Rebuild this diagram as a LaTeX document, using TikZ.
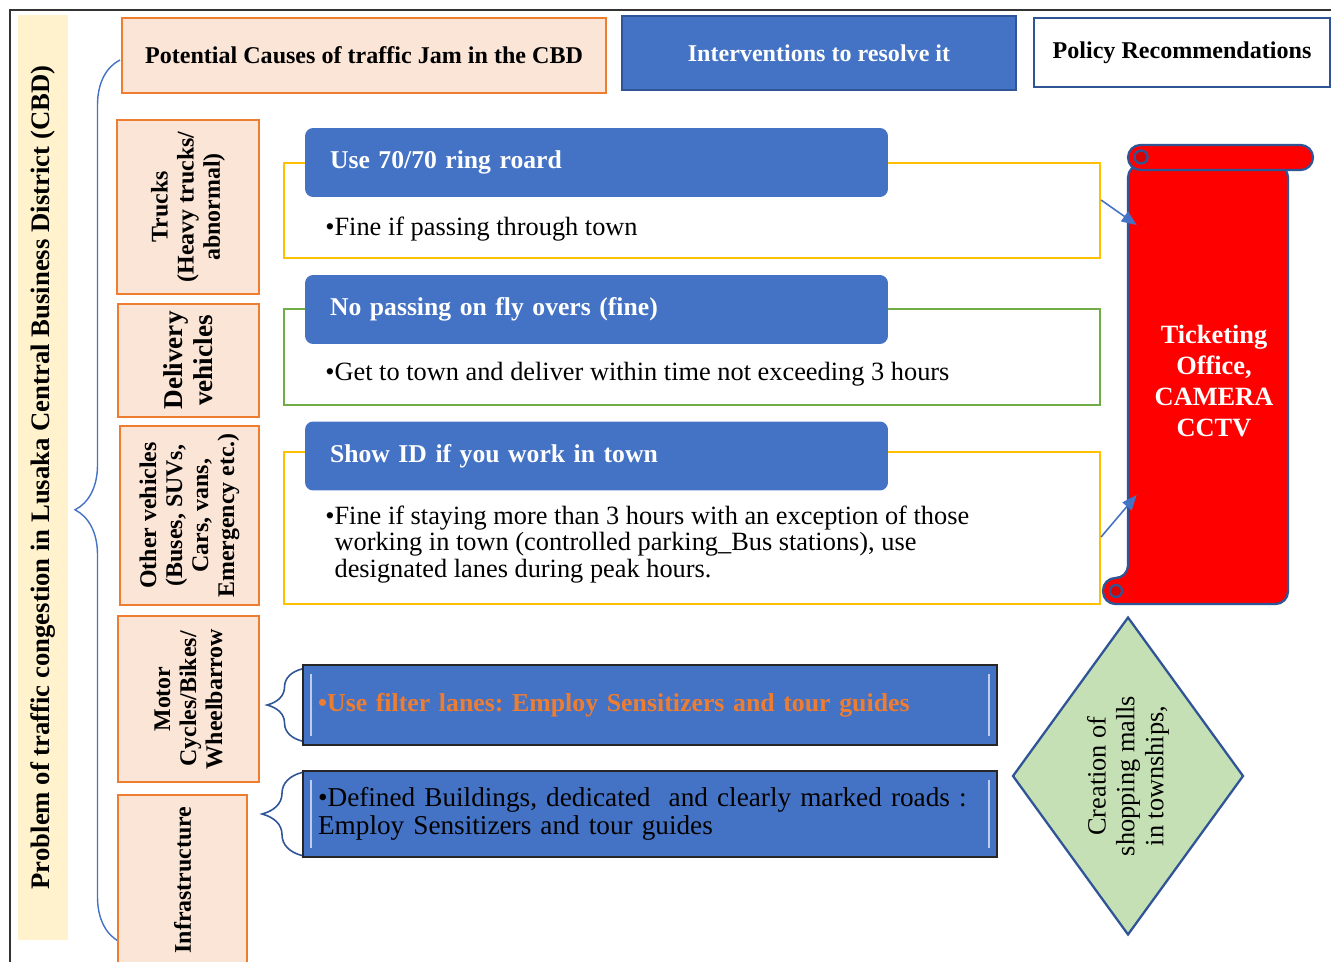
\documentclass[tikz,border=0pt]{standalone}
\usepackage{fontspec}
\setmainfont{Liberation Serif}
\usetikzlibrary{arrows.meta}
\usetikzlibrary{positioning}
\usetikzlibrary{shapes, shapes.geometric}
\usetikzlibrary{decorations.pathreplacing}
\frenchspacing

\definecolor{cblue}{HTML}{4472C4}
\definecolor{cdblue}{HTML}{2F5597}
\definecolor{corange}{HTML}{ED7D31}
\definecolor{cpeach}{HTML}{FBE5D6}
\definecolor{cyel}{HTML}{FFC000}
\definecolor{cgreen}{HTML}{70AD47}
\definecolor{cband}{HTML}{FFF2CC}
\definecolor{cmint}{HTML}{C5E0B4}

\begin{document}
\begin{tikzpicture}[x=0.02cm, y=-0.02cm,
  cause/.style={rectangle, draw=corange, line width=1.6pt, fill=cpeach, rotate=90, align=center, inner sep=2pt, font=\fontsize{13.6}{14.8}\selectfont\bfseries},
  header/.style={rectangle, line width=1.6pt, align=center, font=\fontsize{13.7}{15}\selectfont\bfseries},
  groupframe/.style={rectangle, line width=1.3pt, minimum width=16.32cm},
  actionbox/.style={rectangle, rounded corners=0.16cm, fill=cblue, text=white, align=left, inner xsep=0.5cm, text width=10.66cm, minimum height=1.38cm, font=\fontsize{14.6}{16}\selectfont\bfseries},
  bullettext/.style={inner sep=0pt, align=left, font=\fontsize{15}{15.3}\selectfont},
  sensbar/.style={rectangle, draw=black!85, line width=1.2pt, fill=cblue, align=left, inner xsep=0.3cm, text width=13.28cm},
  bevel/.style={draw=cblue!35!white, line width=1.5pt},
  curly/.style={draw=cdblue, line width=0.9pt, decorate, decoration={brace, amplitude=0.7cm}},
  bigbrace/.style={draw=cblue, line width=0.8pt, decorate, decoration={brace, amplitude=0.9cm, aspect=0.49}},
  scroll/.style={draw=cdblue, line width=1.3pt, fill=red},
  pointer/.style={draw=cblue, line width=0.9pt, -{Triangle[length=0.3cm, width=0.24cm]}}
]
\useasboundingbox (0,0) rectangle (1331,962);

% page frame
\draw[black!80, line width=0.9pt] (10,962) -- (10,10) -- (1331,10);

% problem band
\node[rotate=90, fill=cband, minimum width=18.5cm, minimum height=1cm, font=\fontsize{15.2}{16}\selectfont\bfseries] (problem) at (43,477.5) {Problem of traffic congestion in Lusaka Central Business District (CBD)};

\coordinate (bracebot) at (120,942);
\coordinate (bracetop) at (120,60);
\draw[bigbrace] (bracebot) -- (bracetop);

% column headers
\node[header, draw=corange, fill=cpeach, minimum width=9.68cm, minimum height=1.5cm] (causes) at (364,55.5) {Potential Causes of traffic Jam in the CBD};
\node[header, draw=cdblue, fill=cblue, text=white, minimum width=7.88cm, minimum height=1.48cm] (interv) at (819,53) {Interventions to resolve it};
\node[header, draw=cdblue, fill=white, minimum width=5.92cm, minimum height=1.38cm] (policy) at (1182,52.5) {Policy Recommendations};

% causes
\node[cause, minimum width=3.48cm, minimum height=2.84cm] (trucks) at (188,207) {Trucks\\(Heavy trucks/\\abnormal)};
\node[cause, minimum width=2.26cm, minimum height=2.82cm, font=\fontsize{15.5}{17}\selectfont\bfseries] (delivery) at (188.5,360.5) {Delivery\\vehicles};
\node[cause, minimum width=3.58cm, minimum height=2.78cm] (other) at (189.5,515.5) {Other vehicles\\(Buses, SUVs,\\Cars, vans,\\Emergency etc.)};
\node[cause, minimum width=3.32cm, minimum height=2.82cm] (motor) at (188.5,699) {Motor\\Cycles/Bikes/\\Wheelbarrow};
\node[cause, minimum width=3.4cm, minimum height=2.58cm] (infra) at (182.5,880) {Infrastructure};

% interventions
\node[groupframe, draw=cyel, minimum height=1.9cm] (ring) at (692,210.5) {};
\node[actionbox] (ringtitle) at (596.5,162.5) {Use 70/70 ring roard};
\node[bullettext, anchor=base west] (ringnote) at (325,236) {\textbullet Fine if passing through town};

\node[groupframe, draw=cgreen, minimum height=1.92cm] (fly) at (692,357) {};
\node[actionbox] (flytitle) at (596.5,309.5) {No passing on fly overs (fine)};
\node[bullettext, anchor=base west] (flynote) at (325,381) {\textbullet Get to town and deliver within time not exceeding 3 hours};

\node[groupframe, draw=cyel, minimum height=3.04cm] (show) at (692,528) {};
\node[actionbox] (showtitle) at (596.5,456) {Show ID if you work in town};
\node[bullettext, anchor=base west] (shownote) at (325,524) {\textbullet\begin{tabular}[t]{@{}l@{}}Fine if staying more than 3 hours with an exception of those\\working in town (controlled parking\_Bus stations), use\\designated lanes during peak hours.\end{tabular}};

% filter lanes and infrastructure
\node[sensbar, minimum height=1.6cm, text=corange, font=\fontsize{14.7}{16}\selectfont\bfseries] (filter) at (650,705) {\textbullet Use filter lanes: Employ Sensitizers and tour guides};
\node[sensbar, minimum height=1.72cm, text=black, font=\fontsize{15.5}{15.8}\selectfont] (roads) at (650,814) {\textbullet Defined Buildings, dedicated\ \ and clearly marked roads :\\Employ Sensitizers and tour guides};
\foreach \b in {filter, roads} {
  \draw[bevel] ([xshift=0.18cm,yshift=-0.2cm]\b.north west) -- ([xshift=0.18cm,yshift=0.2cm]\b.south west);
  \draw[bevel] ([xshift=-0.18cm,yshift=-0.2cm]\b.north east) -- ([xshift=-0.18cm,yshift=0.2cm]\b.south east);
}
\draw[curly] ([yshift=0.1cm]filter.south west) -- ([yshift=-0.1cm]filter.north west);
\draw[curly, decoration={brace, amplitude=0.8cm}] ([yshift=0.05cm]roads.south west) -- ([yshift=-0.05cm]roads.north west);

% policy scroll
\filldraw[scroll, rounded corners=0.25cm] (1128,165) -- (1288,165) -- (1288,604) -- (1103,604) -- (1103,578) -- (1128,578) -- cycle;
\filldraw[scroll, rounded corners=0.25cm] (1128,145) rectangle (1313,170);
\draw[scroll, fill=red!85!black] (1141,157) circle[radius=0.13cm];
\draw[scroll, fill=red!85!black] (1116,591) circle[radius=0.12cm];
\node[minimum width=3.2cm, minimum height=8.8cm, text=white, align=center, font=\fontsize{15}{17.5}\selectfont\bfseries] (ticket) at (1214,381) {Ticketing\\Office,\\CAMERA\\CCTV};

\draw[pointer] ([yshift=0.21cm]ring.east) -- ([xshift=0.06cm,yshift=3.12cm]ticket.west);
\draw[pointer] ([yshift=-0.18cm]show.east) -- ([xshift=0.06cm,yshift=-2.28cm]ticket.west);

% malls
\node[diamond, shape aspect=1.38, draw=cdblue, line width=1.3pt, fill=cmint, rotate=90, minimum width=6.36cm, minimum height=4.62cm, inner sep=0pt, align=center, font=\fontsize{15}{16.5}\selectfont] (malls) at (1128,776) {Creation of\\shopping malls\\in townships,};

\end{tikzpicture}
\end{document}
